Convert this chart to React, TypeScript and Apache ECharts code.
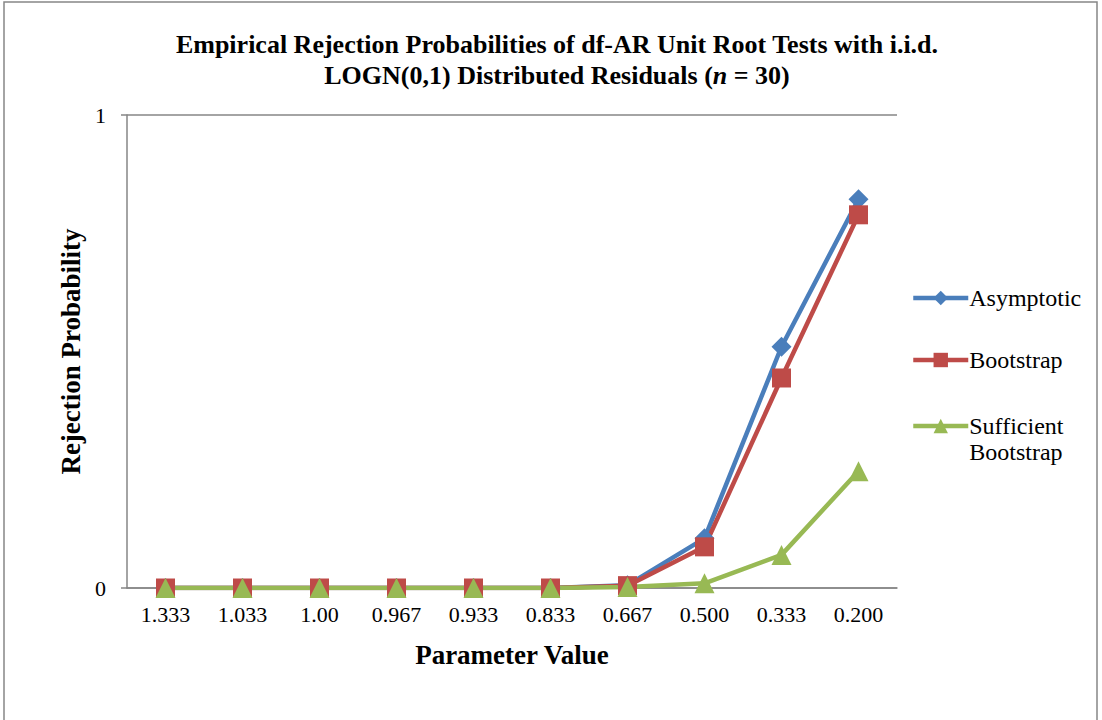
import React, { useEffect, useRef } from "react";
import * as echarts from "echarts";

// Parameter values along the horizontal axis
const parameterValues = ["1.333", "1.033", "1.00", "0.967", "0.933", "0.833", "0.667", "0.500", "0.333", "0.200"];

// Empirical rejection probabilities per test
const asymptotic = [0, 0, 0, 0, 0, 0, 0.006, 0.105, 0.51, 0.822];
const bootstrap = [0, 0, 0, 0, 0, 0, 0.005, 0.087, 0.444, 0.789];
const sufficientBootstrap = [0, 0, 0, 0, 0, 0, 0.002, 0.01, 0.07, 0.247];

const FONT = "'Liberation Serif', 'Times New Roman', serif";

export default function App() {
  const ref = useRef<HTMLDivElement>(null);

  useEffect(() => {
    document.body.style.margin = "0";
    if (!ref.current) return;
    const chart = echarts.init(ref.current, null, { renderer: "svg" });

    const lineSeries = (name: string, data: number[], color: string, symbol: string, symbolSize: number) => ({
      name,
      type: "line",
      data,
      symbol,
      symbolSize,
      showAllSymbol: true,
      lineStyle: { color, width: 4.5 },
      itemStyle: { color },
      emphasis: { disabled: true },
    });

    const legendBase = {
      orient: "vertical",
      left: 911,
      padding: 0,
      itemWidth: 55,
      itemHeight: 18,
      itemGap: 36,
      lineStyle: { width: 4.5 },
      textStyle: { fontFamily: FONT, fontSize: 24, color: "#000", lineHeight: 26, padding: [0, 0, 0, -4] },
    };

    chart.setOption({
      animation: false,
      backgroundColor: "#ffffff",
      textStyle: { fontFamily: FONT, color: "#000" },
      graphic: [
        {
          type: "rect",
          shape: { x: 4, y: 2, width: 1093, height: 740 },
          style: { fill: "none", stroke: "#868686", lineWidth: 1.5 },
          silent: true,
        },
      ],
      title: {
        text: "Empirical Rejection Probabilities of df-AR Unit Root Tests with i.i.d.\n{n|LOGN(0,1) Distributed Residuals (}{i|n}{n| = 30)}",
        left: 552,
        top: 24,
        textAlign: "center",
        textStyle: {
          fontFamily: FONT,
          fontSize: 26,
          fontWeight: "bold",
          color: "#000",
          lineHeight: 31,
          rich: {
            n: { fontFamily: FONT, fontSize: 26, fontWeight: "bold", color: "#000", lineHeight: 31 },
            i: { fontFamily: FONT, fontSize: 26, fontWeight: "bold", fontStyle: "italic", color: "#000", lineHeight: 31 },
          },
        },
      },
      legend: [
        {
          ...legendBase,
          top: 285,
          data: ["Asymptotic", "Bootstrap"],
        },
        {
          // The empty first line keeps the marker level with "Sufficient"
          ...legendBase,
          top: 387,
          formatter: () => " \nSufficient\nBootstrap",
          data: ["Sufficient Bootstrap"],
        },
      ],
      grid: { left: 127, right: 205, top: 115, bottom: 132, containLabel: false },
      xAxis: {
        type: "category",
        data: parameterValues,
        boundaryGap: true,
        name: "Parameter Value",
        nameLocation: "middle",
        nameGap: 53,
        nameTextStyle: { fontFamily: FONT, fontSize: 27, fontWeight: "bold", color: "#000" },
        axisLine: { lineStyle: { color: "#868686", width: 1.5 } },
        axisTick: { show: false },
        axisLabel: { fontFamily: FONT, fontSize: 22, color: "#000", margin: 15 },
      },
      yAxis: {
        type: "value",
        min: 0,
        max: 1,
        interval: 1,
        name: "Rejection Probability",
        nameLocation: "middle",
        nameGap: 41,
        nameTextStyle: { fontFamily: FONT, fontSize: 27, fontWeight: "bold", color: "#000" },
        axisLine: { show: true, lineStyle: { color: "#868686", width: 1.5 } },
        axisTick: { show: true, length: 6, lineStyle: { color: "#868686", width: 1.5 } },
        axisLabel: { fontFamily: FONT, fontSize: 22, color: "#000", margin: 21 },
        splitLine: { show: true, lineStyle: { color: "#868686", width: 1.5 } },
      },
      series: [
        lineSeries("Asymptotic", asymptotic, "#4A7EBB", "diamond", 20),
        lineSeries("Bootstrap", bootstrap, "#BE4B48", "rect", 19),
        lineSeries("Sufficient Bootstrap", sufficientBootstrap, "#98B954", "triangle", 20),
      ],
    });

    return () => chart.dispose();
  }, []);

  return <div ref={ref} style={{ width: 1102, height: 720 }} />;
}
